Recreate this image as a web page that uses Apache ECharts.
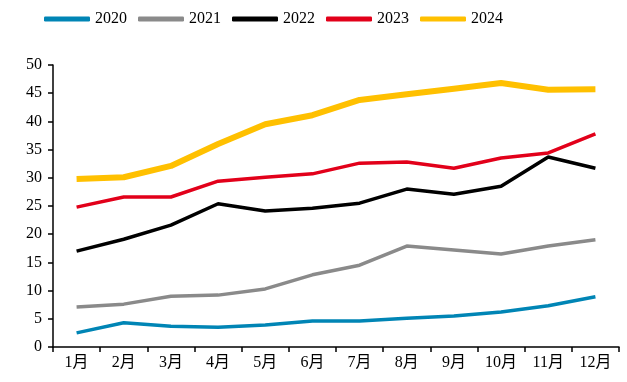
<!DOCTYPE html>
<html>
<head>
<meta charset="utf-8">
<script src="https://cdn.jsdelivr.net/npm/echarts@6/dist/echarts.min.js"></script>
<style>
  html, body { margin: 0; padding: 0; background: #fff; }
  #chart { width: 627px; height: 382px; }
</style>
</head>
<body>
<div id="chart"></div>
<script>
// Monthly cumulative values by year
var months = ['1月', '2月', '3月', '4月', '5月', '6月', '7月', '8月', '9月', '10月', '11月', '12月'];
var y2020 = [2.5, 4.3, 3.7, 3.5, 3.9, 4.6, 4.6, 5.1, 5.5, 6.2, 7.3, 8.9];
var y2021 = [7.1, 7.6, 9.0, 9.2, 10.3, 12.8, 14.5, 17.9, 17.2, 16.5, 17.9, 19.0];
var y2022 = [17.0, 19.1, 21.6, 25.4, 24.1, 24.6, 25.5, 28.0, 27.1, 28.5, 33.7, 31.7];
var y2023 = [24.8, 26.6, 26.6, 29.4, 30.1, 30.7, 32.6, 32.8, 31.7, 33.5, 34.4, 37.8];
var y2024 = [29.8, 30.1, 32.1, 36.0, 39.5, 41.1, 43.8, 44.8, 45.8, 46.8, 45.6, 45.7];
var yTicks = { min: 0, max: 50, interval: 5 };

var font = '"Liberation Serif", "Times New Roman", "Noto Sans CJK SC", serif';

function line(name, data, color, width) {
  return {
    name: name,
    type: 'line',
    data: data,
    symbol: 'none',
    lineStyle: { color: color, width: width },
    itemStyle: { color: color }
  };
}

var chart = echarts.init(document.getElementById('chart'), null, { renderer: 'canvas' });
chart.setOption({
  animation: false,
  backgroundColor: '#ffffff',
  legend: {
    top: 6,
    left: 39,
    itemWidth: 46,
    itemHeight: 5,
    itemGap: 11,
    icon: 'roundRect',
    textStyle: { fontFamily: font, fontSize: 16, color: '#000' },
    data: ['2020', '2021', '2022', '2023', '2024']
  },
  grid: { left: 53, right: 8, top: 65, bottom: 35 },
  xAxis: {
    type: 'category',
    data: months,
    boundaryGap: true,
    axisLine: { lineStyle: { color: '#000', width: 1.5 } },
    axisTick: { show: true, length: 5, lineStyle: { color: '#000', width: 1.5 } },
    axisLabel: { fontFamily: font, fontSize: 16, color: '#000', margin: 8 }
  },
  yAxis: {
    type: 'value',
    min: yTicks.min,
    max: yTicks.max,
    interval: yTicks.interval,
    splitLine: { show: false },
    axisLine: { show: true, lineStyle: { color: '#000', width: 1.5 } },
    axisTick: { show: true, length: 5, lineStyle: { color: '#000', width: 1.5 } },
    axisLabel: { fontFamily: font, fontSize: 16, color: '#000', margin: 11 }
  },
  series: [
    line('2020', y2020, '#0085B5', 3.5),
    line('2021', y2021, '#8A8A8A', 3.5),
    line('2022', y2022, '#000000', 3.5),
    line('2023', y2023, '#E2001A', 3.5),
    line('2024', y2024, '#FFC000', 6)
  ]
});
</script>
</body>
</html>
